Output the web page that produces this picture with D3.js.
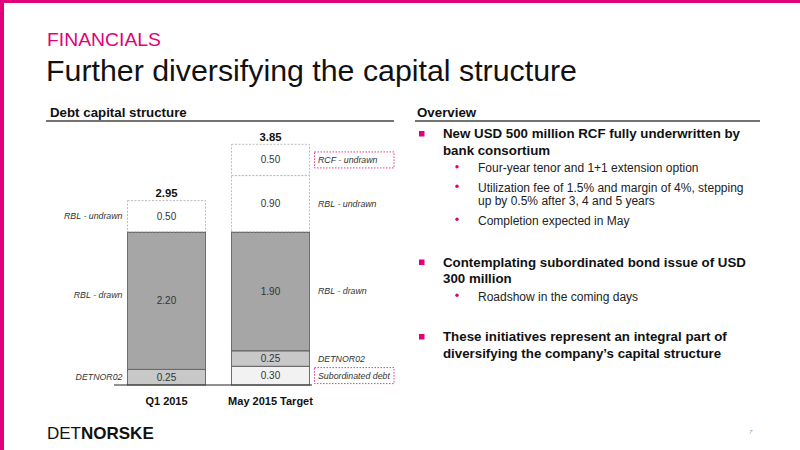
<!DOCTYPE html>
<html>
<head>
<meta charset="utf-8">
<script src="https://cdn.jsdelivr.net/npm/d3@7"></script>
<style>
  body { margin: 0; background: #fff; }
  svg { display: block; font-family: "Liberation Sans", Arial, sans-serif; }
</style>
</head>
<body>
<svg id="slide" width="800" height="450"></svg>
<script>
// chart values
const categories = ["Q1 2015", "May 2015 Target"];
const seriesNames = ["Subordinated debt", "DETNOR02", "RBL - drawn", "RBL - undrawn", "RCF - undrawn"];
const q1Values = [0, 0.25, 2.20, 0.50, 0];
const mayValues = [0.30, 0.25, 1.90, 0.90, 0.50];
const newItems = ["Subordinated debt", "RCF - undrawn"];
const undrawnItems = ["RBL - undrawn", "RCF - undrawn"];

// overview text
const overviewItems = [
  { main: ["New USD 500 million RCF fully underwritten by", "bank consortium"],
    subs: [["Four-year tenor and 1+1 extension option"],
           ["Utilization fee of 1.5% and margin of 4%, stepping", "up by 0.5% after 3, 4 and 5 years"],
           ["Completion expected in May"]] },
  { main: ["Contemplating subordinated bond issue of USD", "300 million"],
    subs: [["Roadshow in the coming days"]] },
  { main: ["These initiatives represent an integral part of", "diversifying the company\u2019s capital structure"],
    subs: [] }
];

const pink = "#e2007a";
const fills = {
  "Subordinated debt": "#f2f2f2",
  "DETNOR02": "#c8c8c8",
  "RBL - drawn": "#a6a6a6",
  "RBL - undrawn": "#ffffff",
  "RCF - undrawn": "#ffffff"
};

const svg = d3.select("#slide");

// frame
svg.append("rect").attr("x", 0).attr("y", 0).attr("width", 800).attr("height", 3).attr("fill", pink);
svg.append("rect").attr("x", 0).attr("y", 0).attr("width", 4).attr("height", 450).attr("fill", pink);

// titles
svg.append("text").attr("x", 47).attr("y", 46)
  .attr("font-size", 18.5).attr("fill", pink)
  .attr("textLength", 114).attr("lengthAdjust", "spacingAndGlyphs")
  .text("FINANCIALS");
svg.append("text").attr("x", 46).attr("y", 81)
  .attr("font-size", 30).attr("fill", "#111")
  .attr("textLength", 531).attr("lengthAdjust", "spacingAndGlyphs")
  .text("Further diversifying the capital structure");

// section headers
function header(x, x1, x2, label) {
  svg.append("text").attr("x", x).attr("y", 117)
    .attr("font-size", 13.3).attr("font-weight", "bold").attr("fill", "#111")
    .text(label);
  svg.append("line").attr("x1", x1).attr("x2", x2).attr("y1", 121).attr("y2", 121)
    .attr("stroke", "#444").attr("stroke-width", 1.3);
}
header(50, 46, 394, "Debt capital structure");
header(417, 415, 760, "Overview");

// ---- stacked bars ----
let table = categories.map(function(c, i) {
  let row = { category: c };
  let vals = i === 0 ? q1Values : mayValues;
  seriesNames.forEach(function(s, j) { row[s] = vals[j]; });
  return row;
});

let stacked = d3.stack().keys(seriesNames)(table);
let totals = table.map(r => d3.sum(seriesNames, s => r[s]));

let x = d3.scaleBand().domain(categories).range([114.5, 322.5])
  .paddingInner(0.25).paddingOuter(0.125);
let y = d3.scaleLinear().domain([0, d3.max(totals)]).range([385, 144.3]);

let chart = svg.append("g");

stacked.forEach(function(layer) {
  let name = layer.key;
  let undrawn = undrawnItems.includes(name);
  layer.forEach(function(d, i) {
    if (d[1] - d[0] <= 0) return;
    let cat = categories[i];
    let x0 = x(cat), w = x.bandwidth();
    let yTop = y(d[1]), yBot = y(d[0]);
    chart.append("rect")
      .attr("x", x0).attr("y", yTop)
      .attr("width", w).attr("height", yBot - yTop)
      .attr("fill", fills[name])
      .attr("stroke", undrawn ? "#b5b5b5" : "#6e6e6e")
      .attr("stroke-width", undrawn ? 0.9 : 1)
      .attr("stroke-dasharray", undrawn ? "2,1.5" : null);
    if (!undrawn) {
      chart.append("line")
        .attr("x1", x0).attr("x2", x0 + w).attr("y1", yTop).attr("y2", yTop)
        .attr("stroke", "#333").attr("stroke-width", 1.2);
    }
    // value label
    chart.append("text")
      .attr("x", x0 + w / 2).attr("y", (yTop + yBot) / 2)
      .attr("dy", "0.35em").attr("text-anchor", "middle")
      .attr("font-size", 10).attr("fill", "#333")
      .text(d3.format(".2f")(d[1] - d[0]));
    // series label, left of first bar and right of last bar
    let left = i === 0;
    let lx = left ? x0 - 5 : x0 + w + 8.5;
    let ly = (yTop + yBot) / 2;
    if (left && name === "RBL - drawn") ly -= 6;
    chart.append("text")
      .attr("x", lx).attr("y", ly).attr("dy", "0.35em")
      .attr("text-anchor", left ? "end" : "start")
      .attr("font-size", 8.8).attr("font-style", "italic").attr("fill", "#333")
      .text(name);
    if (!left && newItems.includes(name)) {
      chart.append("rect")
        .attr("x", x0 + w + 5).attr("y", ly - 8)
        .attr("width", 79.5).attr("height", 16)
        .attr("fill", "none").attr("stroke", pink)
        .attr("stroke-width", 0.8).attr("stroke-dasharray", "1.5,1.5");
    }
  });
});

// totals
table.forEach(function(r, i) {
  chart.append("text")
    .attr("x", x(r.category) + x.bandwidth() / 2).attr("y", y(totals[i]) - 3.5)
    .attr("text-anchor", "middle").attr("font-size", 11.3)
    .attr("font-weight", "bold").attr("fill", "#111")
    .text(d3.format(".2f")(totals[i]));
});

// baseline
chart.append("line")
  .attr("x1", 114).attr("x2", x(categories[1]) + x.bandwidth() + 2.5)
  .attr("y1", y(0)).attr("y2", y(0))
  .attr("stroke", "#222").attr("stroke-width", 1);

// category labels
let xAxis = d3.axisBottom(x).tickSize(0).tickPadding(0);
let axisG = chart.append("g").attr("transform", "translate(0,397)").call(xAxis);
axisG.select(".domain").remove();
axisG.selectAll("text")
  .attr("font-family", "Liberation Sans, Arial, sans-serif")
  .attr("font-size", 11).attr("font-weight", "bold").attr("fill", "#111");

// ---- overview bullets ----
let ov = svg.append("g");
let mainY = [138, 266.5, 341];
let lineH = 16.8, subLineH = 13.5, subGap = 19.5;
overviewItems.forEach(function(item, k) {
  let yy = mainY[k];
  ov.append("rect").attr("x", 419).attr("y", yy - 7).attr("width", 5.5).attr("height", 5.5)
    .attr("fill", pink);
  item.main.forEach(function(t, j) {
    ov.append("text").attr("x", 443).attr("y", yy + j * lineH)
      .attr("font-size", 13.3).attr("font-weight", "bold").attr("fill", "#111")
      .text(t);
  });
  let sy = yy + (item.main.length - 1) * lineH + 17.5;
  item.subs.forEach(function(lines) {
    ov.append("circle").attr("cx", 457).attr("cy", sy - 5.5).attr("r", 1.7).attr("fill", pink);
    lines.forEach(function(t, j) {
      ov.append("text").attr("x", 478).attr("y", sy + j * subLineH)
        .attr("font-size", 12).attr("fill", "#222")
        .text(t);
    });
    sy += (lines.length - 1) * subLineH + subGap;
  });
});

// footer logo
let logo = svg.append("text").attr("x", 47).attr("y", 439).attr("font-size", 17).attr("fill", "#111");
logo.append("tspan").text("DET");
logo.append("tspan").attr("font-weight", "bold").text("NORSKE");

svg.append("text").attr("x", 749).attr("y", 434).attr("font-size", 6)
  .attr("fill", "#999").attr("font-style", "italic").text("7");
</script>
</body>
</html>
